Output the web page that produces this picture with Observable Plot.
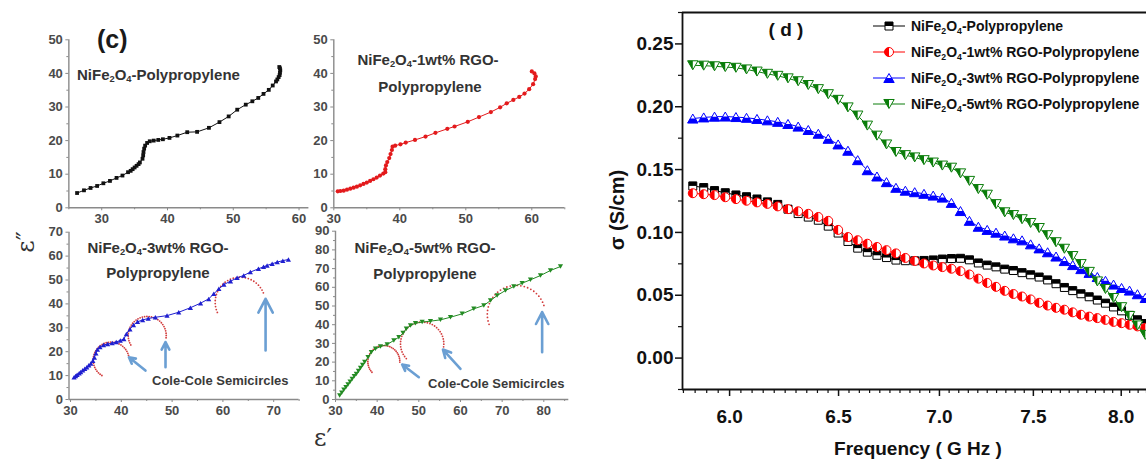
<!DOCTYPE html>
<html><head><meta charset="utf-8">
<script src="https://cdn.jsdelivr.net/npm/d3@7"></script>
<script src="https://cdn.jsdelivr.net/npm/@observablehq/plot@0.6"></script>
<style>
html,body{margin:0;padding:0;background:#fff;}
#root{position:relative;width:1146px;height:459px;overflow:hidden;background:#fff;font-family:"Liberation Sans",Arial,sans-serif;}
#root svg{position:absolute;left:0;top:0;max-width:none !important;}
.lbl{position:absolute;white-space:nowrap;font-weight:bold;line-height:1;}
.lbl sub{font-size:0.62em;vertical-align:-0.32em;line-height:0;}
</style></head><body><div id="root"></div>
<script>
// ---------------- Panel (d): conductivity vs frequency ----------------
const freqGHz = [5.840,5.887,5.934,5.981,6.028,6.075,6.122,6.169,6.216,6.263,6.310,6.357,6.404,6.451,6.498,6.545,6.592,6.639,6.686,6.733,6.780,6.827,6.874,6.921,6.968,7.015,7.062,7.109,7.156,7.203,7.250,7.297,7.344,7.391,7.438,7.485,7.532,7.579,7.626,7.673,7.720,7.767,7.814,7.861,7.908,7.955,8.002,8.049,8.096,8.143];
const sigmaPP = [.1370,.1357,.1333,.1316,.1298,.1284,.1266,.1243,.1223,.1185,.1150,.1122,.1097,.1050,.0995,.0928,.0875,.0843,.0818,.0800,.0780,.0775,.0774,.0777,.0781,.0788,.0792,.0794,.0782,.0757,.0740,.0726,.0708,.0697,.0680,.0663,.0645,.0622,.0592,.0562,.0537,.0512,.0488,.0462,.0437,.0407,.0376,.0340,.0305,.0275];
const sigma1wt = [.1312,.1304,.1297,.1280,.1265,.1252,.1239,.1227,.1207,.1185,.1168,.1148,.1123,.1092,.1020,.0963,.0938,.0910,.0884,.0859,.0833,.0797,.0773,.0753,.0737,.0724,.0711,.0692,.0665,.0632,.0598,.0567,.0535,.0510,.0490,.0467,.0440,.0418,.0400,.0385,.0364,.0345,.0330,.0318,.0304,.0288,.0278,.0265,.0252,.0240];
const sigma3wt = [.1906,.1915,.1921,.1922,.1918,.1912,.1903,.1892,.1880,.1863,.1842,.1815,.1785,.1745,.1700,.1650,.1575,.1495,.1445,.1400,.1355,.1332,.1320,.1307,.1293,.1277,.1235,.1170,.1092,.1045,.1020,.0998,.0975,.0953,.0937,.0905,.0873,.0842,.0808,.0772,.0740,.0708,.0678,.0645,.0615,.0585,.0558,.0537,.0508,.0478];
const sigma5wt = [.2330,.2327,.2322,.2316,.2310,.2297,.2280,.2262,.2246,.2226,.2203,.2173,.2140,.2100,.2055,.1995,.1930,.1850,.1770,.1700,.1640,.1615,.1597,.1575,.1556,.1532,.1515,.1470,.1410,.1345,.1300,.1225,.1160,.1138,.1105,.1075,.1035,.0978,.0922,.0870,.0812,.0748,.0686,.0610,.0550,.0478,.0405,.0335,.0260,.0185];
const seriesNames = ["NiFe<sub>2</sub>O<sub>4</sub>-Polypropylene","NiFe<sub>2</sub>O<sub>4</sub>-1wt% RGO-Polypropylene","NiFe<sub>2</sub>O<sub>4</sub>-3wt% RGO-Polypropylene","NiFe<sub>2</sub>O<sub>4</sub>-5wt% RGO-Polypropylene"];
const seriesColors = ["#000000","#ff0000","#0000ff","#0a7d0a"];
const freqTicks = [6.0,6.5,7.0,7.5,8.0];
const sigmaTicks = [0,0.05,0.10,0.15,0.20,0.25];

// ---------------- Panel (c): Cole-Cole plots ----------------
const ppEpsR = [26.25,27.3,28.3,29.3,30.25,31.25,32.25,33.15,34.0,34.4,34.7,35.0,35.3,35.6,35.8,36.2,36.3,36.35,36.45,36.6,36.9,37.3,37.9,38.6,39.3,40.3,41.5,43.0,44.5,46.3,47.9,49.3,50.6,51.9,52.9,53.8,54.6,55.4,56.0,56.5,56.7,56.9,57.05,57.1,57.15,57.1,57.0];
const ppEpsI = [4.4,5.2,5.9,6.5,7.3,8.0,8.9,9.6,10.6,11.0,11.5,12.0,12.5,13.0,13.5,14.6,15.6,16.6,17.6,18.5,19.3,19.8,20.0,20.2,20.4,20.8,21.5,22.5,22.6,23.8,25.5,27.2,29.2,30.7,31.7,32.7,33.9,35.1,36.4,37.6,38.2,38.9,39.5,40.2,40.9,41.5,41.9];
const wt1EpsR = [30.6,31.0,31.5,32.0,32.5,33.0,33.5,34.0,34.5,35.0,35.5,36.0,36.5,37.0,37.5,37.8,37.8,37.9,38.1,38.4,38.6,38.8,38.9,39.3,40.1,40.9,42.3,43.9,45.4,47.2,48.3,50.3,52.0,53.8,55.2,56.2,57.2,58.1,58.9,59.6,60.2,60.5,60.6,60.4,60.0];
const wt1EpsI = [4.9,5.0,5.1,5.4,5.7,6.0,6.3,6.7,7.1,7.5,8.0,8.5,9.0,9.6,10.2,10.6,11.5,12.6,13.6,14.8,16.0,17.2,18.2,18.5,18.9,19.4,20.2,21.2,22.3,23.5,24.2,25.6,27.0,28.5,29.9,31.1,32.1,33.0,34.0,35.3,36.8,38.3,39.1,40.0,40.6];
const wt3EpsR = [30.7,31.0,31.3,31.7,32.0,32.4,32.8,33.2,33.6,34.0,34.4,34.7,35.0,35.3,35.8,36.5,37.3,38.2,39.0,39.8,40.5,41.0,41.7,42.4,43.2,44.2,45.3,46.7,49.0,51.3,53.6,55.6,57.2,58.2,59.2,60.2,61.5,62.8,64.1,65.4,67.0,68.0,68.7,69.7,70.7,71.8,72.9];
const wt3EpsI = [9.3,9.8,10.4,11.0,11.5,12.2,12.9,13.5,14.3,15.1,16.2,17.6,19.4,20.9,22.0,22.8,23.2,23.6,24.1,24.7,25.3,27.4,29.4,31.2,32.5,33.3,33.9,34.4,35.1,36.5,38.4,40.3,42.1,44.2,46.3,48.1,49.5,50.9,51.9,53.3,54.7,55.5,56.1,56.8,57.5,58.1,58.6];
const wt5EpsR = [31.0,31.5,32.0,32.5,33.0,33.5,34.0,34.5,35.0,35.5,36.0,36.5,37.0,37.8,38.6,39.6,40.8,42.4,44.0,45.2,46.2,47.0,48.0,49.2,50.8,52.8,55.2,57.6,60.4,63.2,65.6,67.2,68.8,70.8,72.8,74.8,76.8,79.2,81.6,84.0];
const wt5EpsI = [2.1,3.6,5.2,6.6,8.0,9.5,11.0,12.4,13.7,15.3,16.9,18.4,20.0,22.6,25.3,27.1,28.3,29.4,31.6,33.3,35.5,37.8,39.6,40.8,41.4,41.9,42.6,44.0,45.8,48.5,50.3,52.9,55.6,58.3,60.4,62.2,64.0,66.3,69.0,71.1];
// Cole-Cole semicircles: [centre eps', centre eps'', radius eps', radius eps'', start deg, end deg]
const wt3Arcs = [[38.0,16.5,3.54,7.53,15,242],[45.1,26.8,3.74,7.95,-7,216],[63.4,40.7,4.92,10.46,22,205]];
const wt5Arcs = [[41.6,20.3,3.84,8.56,-2,223],[50.8,29.8,5.2,11.6,-8,225],[73.4,45.5,6.96,15.5,18,206]];
// arrows: [from eps', from eps'', to eps', to eps'']
const wt3Arrows = [[44.75,12.1,41.5,17.7],[48.7,13.5,48.7,24.0],[68.4,20.5,68.4,42.1]];
const wt5Arrows = [[50.0,11.9,46.0,18.7],[60.0,16.4,55.8,26.7],[79.6,25.3,79.6,46.7]];

// ---------------- symbols ----------------
const sym = fn => ({draw(ctx, size){ fn(ctx, Math.sqrt(size/Math.PI)); }});
const poly = (c, pts) => { c.moveTo(pts[0][0], pts[0][1]); for (const p of pts.slice(1)) c.lineTo(p[0], p[1]); c.closePath(); };
const SQ = sym((c,r)=>poly(c,[[-r,-r],[r,-r],[r,r],[-r,r]]));
const SQ_TOP = sym((c,r)=>poly(c,[[-r,-r],[r,-r],[r,0],[-r,0]]));
const CIR = sym((c,r)=>{c.moveTo(r,0); c.arc(0,0,r,0,2*Math.PI);});
const CIR_LEFT = sym((c,r)=>{c.moveTo(0,-r); c.arc(0,0,r,-Math.PI/2,Math.PI/2,true); c.closePath();});
const TRI_UP = sym((c,r)=>{const k=0.866*r; poly(c,[[0,-k],[r,k],[-r,k]]);});
const TRI_UP_BOT = sym((c,r)=>{const k=0.866*r; poly(c,[[-r/2,0],[r/2,0],[r,k],[-r,k]]);});
const TRI_DN = sym((c,r)=>{const k=0.866*r; poly(c,[[-r,-k],[r,-k],[0,k]]);});
const TRI_DN_LEFT = sym((c,r)=>{const k=0.866*r; poly(c,[[-r,-k],[0,-k],[0,k]]);});
const dSeriesSym = [[SQ,SQ_TOP,4],[CIR,CIR_LEFT,4.5],[TRI_UP,TRI_UP_BOT,5.2],[TRI_DN,TRI_DN_LEFT,5.2]];

const root = document.getElementById("root");
const W = 1146, H = 459;
function label(html, x, y, {size=14, anchor="start", rotate=0, color="#222", family=null, weight="bold"} = {}) {
  const d = document.createElement("div");
  d.className = "lbl";
  d.innerHTML = html;
  d.style.left = x + "px"; d.style.top = y + "px";
  d.style.fontSize = size + "px"; d.style.color = color; d.style.fontWeight = weight;
  if (family) d.style.fontFamily = family;
  const tx = anchor === "middle" ? "-50%" : anchor === "end" ? "-100%" : "0";
  d.style.transform = rotate ? `translate(-50%,-50%) rotate(${rotate}deg)` : `translate(${tx},-50%)`;
  root.appendChild(d);
}
function place(svg) { svg.style.maxWidth = "none"; svg.style.position = "absolute"; svg.style.left = "0px"; svg.style.top = "0px"; root.appendChild(svg); }

// ---------------- build panel (d) ----------------
const dSeries = [sigmaPP, sigma1wt, sigma3wt, sigma5wt];
const dData = dSeries.map((ys, k) => freqGHz.map((f, i) => ({f, s: ys[i], k})));
const xDom = [5.796, 8.301], yDom = [-0.025, 0.275];
const freqMinor = d3.range(5.80, 8.31, 0.05).map(v => +v.toFixed(2)).filter(v => !freqTicks.some(t => Math.abs(t - v) < 1e-6));
const sigmaMinor = d3.range(-0.025, 0.276, 0.05).map(v => +v.toFixed(3));
const dMarks = [
  Plot.ruleY([yDom[0], yDom[1]], {stroke: "#111", strokeWidth: 1.8}),
  Plot.ruleX([xDom[0]], {stroke: "#111", strokeWidth: 1.8}),
  Plot.axisX(freqTicks, {tickSize: 7, fill: "none", stroke: "#111", label: null, strokeWidth: 1.5}),
  Plot.axisX(freqMinor, {tickSize: 4, fill: "none", stroke: "#111", label: null, strokeWidth: 1.2}),
  Plot.text(freqTicks, {x: d => d, text: d => d.toFixed(1), frameAnchor: "bottom", dy: 27, lineAnchor: "middle", fontSize: 19, fontWeight: "bold", fill: "#111"}),
  Plot.axisY(sigmaTicks, {tickFormat: d => d.toFixed(2), tickSize: 7, tickPadding: 2, label: null, strokeWidth: 1.5}),
  Plot.axisY(sigmaMinor, {tickSize: 4, fill: "none", stroke: "#111", label: null, strokeWidth: 1.2})
];
dData.forEach((data, k) => {
  const col = seriesColors[k];
  const [full, half, r] = dSeriesSym[k];
  dMarks.push(Plot.line(data, {x: "f", y: "s", stroke: col, strokeWidth: 1}));
  dMarks.push(Plot.dot(data, {x: "f", y: "s", r, symbol: full, fill: "white", stroke: col, strokeWidth: 1}));
  dMarks.push(Plot.dot(data, {x: "f", y: "s", r, symbol: half, fill: col, stroke: "none"}));
});
const plotD = Plot.plot({
  width: 1171, height: H,
  marginLeft: 682, marginRight: 0, marginTop: 12, marginBottom: 70,
  x: {type: "log", domain: xDom},
  y: {domain: yDom},
  style: {fontFamily: "Liberation Sans, Arial, sans-serif", fontSize: "19px", fontWeight: "bold", color: "#111", background: "transparent", overflow: "visible"},
  marks: dMarks
});
place(plotD);

// ---------------- build panel (c) sub-plots ----------------
function arcDots(arcs) {
  const pts = [];
  for (const [cx, cy, rx, ry, a0, a1] of arcs) {
    for (let a = a0; a <= a1 + 1e-9; a += 7) {
      const t = a * Math.PI / 180;
      pts.push({x: cx + rx * Math.cos(t), y: cy + ry * Math.sin(t)});
    }
  }
  return pts;
}
function panelC({epsR, epsI, xDomain, yDomain, frame, xTicks, xMinor, yTicks, yMinor, color, symbol, r, arcs, arrows}) {
  const [x0, y0, x1, y1] = frame;
  const data = epsR.map((v, i) => ({x: v, y: epsI[i]}));
  const marks = [
    Plot.ruleX([xDomain[0]], {stroke: "#8a8a8a", strokeWidth: 1.4}),
    Plot.ruleY([yDomain[0]], {stroke: "#8a8a8a", strokeWidth: 1.4}),
    Plot.axisX(xTicks, {tickSize: 3, tickPadding: 3, label: null, stroke: "#8a8a8a", fill: "#4a4a4a"}),
    Plot.axisX(xMinor, {tickSize: 2, fill: "none", label: null, stroke: "#8a8a8a"}),
    Plot.axisY(yTicks, {tickSize: 3, tickPadding: 3, label: null, stroke: "#8a8a8a", fill: "#4a4a4a"}),
    Plot.axisY(yMinor, {tickSize: 2, fill: "none", label: null, stroke: "#8a8a8a"})
  ];
  if (arcs) marks.push(Plot.dot(arcDots(arcs), {x: "x", y: "y", r: 0.9, fill: "#d23b3b", stroke: "none"}));
  marks.push(Plot.line(data, {x: "x", y: "y", stroke: color, strokeWidth: 1}));
  marks.push(Plot.dot(data, {x: "x", y: "y", r, symbol, fill: color, stroke: "none"}));
  if (arrows) marks.push(Plot.arrow(arrows, {x1: d => d[0], y1: d => d[1], x2: d => d[2], y2: d => d[3], stroke: "#6b9fd3", strokeWidth: 2.6, headLength: 9, headAngle: 55}));
  const p = Plot.plot({
    width: W, height: H,
    marginLeft: x0, marginRight: W - x1, marginTop: y0, marginBottom: H - y1,
    x: {domain: xDomain}, y: {domain: yDomain},
    style: {fontFamily: "Liberation Sans, Arial, sans-serif", fontSize: "13px", fontWeight: "bold", color: "#4a4a4a", background: "transparent", overflow: "visible"},
    marks
  });
  place(p);
}
panelC({epsR: ppEpsR, epsI: ppEpsI, xDomain: [25, 61.5], yDomain: [0, 50], frame: [68.35, 39.3, 308.4, 207.3],
  xTicks: [30,40,50,60], xMinor: [25,35,45,55], yTicks: [0,10,20,30,40,50], yMinor: [5,15,25,35,45],
  color: "#111", symbol: SQ, r: 1.9});
panelC({epsR: wt1EpsR, epsI: wt1EpsI, xDomain: [30, 65], yDomain: [0, 50], frame: [333.3, 39.3, 564.3, 207.3],
  xTicks: [30,40,50,60], xMinor: [35,45,55,65], yTicks: [0,10,20,30,40,50], yMinor: [5,15,25,35,45],
  color: "#e31a1c", symbol: CIR, r: 2.1});
panelC({epsR: wt3EpsR, epsI: wt3EpsI, xDomain: [29.7, 75], yDomain: [0, 70], frame: [68.5, 231.7, 298.6, 399],
  xTicks: [30,40,50,60,70], xMinor: [35,45,55,65,75], yTicks: [0,10,20,30,40,50,60,70], yMinor: [5,15,25,35,45,55,65],
  color: "#1f1fd0", symbol: TRI_UP, r: 2.6, arcs: wt3Arcs, arrows: wt3Arrows});
panelC({epsR: wt5EpsR, epsI: wt5EpsI, xDomain: [30, 86], yDomain: [0, 90], frame: [335, 230.7, 568.3, 399],
  xTicks: [30,40,50,60,70,80], xMinor: [35,45,55,65,75,85], yTicks: [0,10,20,30,40,50,60,70,80,90], yMinor: [5,15,25,35,45,55,65,75,85],
  color: "#238b23", symbol: TRI_DN, r: 2.6, arcs: wt5Arcs, arrows: wt5Arrows});

// ---------------- texts ----------------
label("(c)", 97, 39, {size: 25, color: "#1a1a1a"});
label("NiFe<sub>2</sub>O<sub>4</sub>-Polypropylene", 77, 74, {size: 15, color: "#333"});
label("NiFe<sub>2</sub>O<sub>4</sub>-1wt% RGO-", 428, 59, {size: 15, anchor: "middle", color: "#333"});
label("Polypropylene", 430, 86, {size: 15, anchor: "middle", color: "#333"});
label("NiFe<sub>2</sub>O<sub>4</sub>-3wt% RGO-", 158, 247, {size: 15, anchor: "middle", color: "#333"});
label("Polypropylene", 158, 272, {size: 15, anchor: "middle", color: "#333"});
label("NiFe<sub>2</sub>O<sub>4</sub>-5wt% RGO-", 425, 247, {size: 15, anchor: "middle", color: "#333"});
label("Polypropylene", 425, 273, {size: 15, anchor: "middle", color: "#333"});
label("Cole-Cole Semicircles", 152, 380, {size: 13, color: "#3a3a3a"});
label("Cole-Cole Semicircles", 428, 383, {size: 13, color: "#3a3a3a"});
label("ε″", 26, 242, {size: 24, rotate: -90, family: "DejaVu Serif, serif", weight: "normal", color: "#333"});
label("ε′", 314, 438, {size: 24, family: "DejaVu Serif, serif", weight: "normal", color: "#333"});

label("( d )", 786, 29, {size: 19, anchor: "middle", color: "#111"});
label("σ (S/cm)", 617, 210, {size: 20, rotate: -90, color: "#111"});
label("Frequency ( G Hz )", 918, 448, {size: 19, anchor: "middle", color: "#111"});

// legend (d)
const legendY = [26, 52, 78, 104];
seriesNames.forEach((name, k) => {
  const col = seriesColors[k];
  const [full, half, r] = dSeriesSym[k];
  const s = d3.create("svg").attr("width", 34).attr("height", 18)
    .style("position", "absolute").style("left", "872px").style("top", (legendY[k] - 9) + "px").style("overflow", "visible");
  s.append("line").attr("x1", 1).attr("x2", 33).attr("y1", 9).attr("y2", 9).attr("stroke", col).attr("stroke-width", 1);
  const sz = Math.PI * r * r;
  s.append("path").attr("transform", "translate(17,9)").attr("d", d3.symbol(full, sz)()).attr("fill", "white").attr("stroke", col);
  s.append("path").attr("transform", "translate(17,9)").attr("d", d3.symbol(half, sz)()).attr("fill", col);
  root.appendChild(s.node());
  label(name, 911, legendY[k], {size: 14, color: "#111"});
});
</script></body></html>
